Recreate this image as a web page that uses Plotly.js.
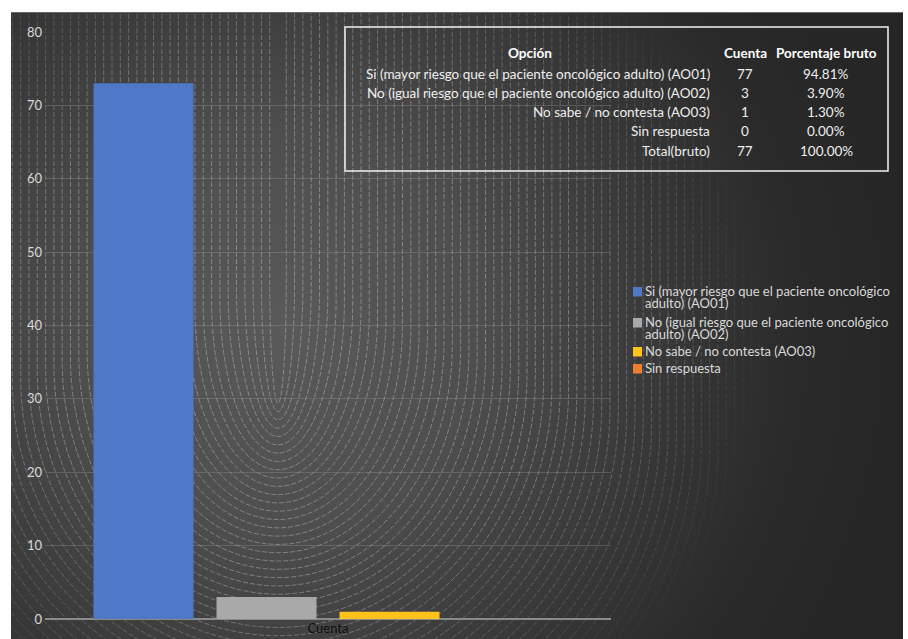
<!DOCTYPE html>
<html>
<head>
<meta charset="utf-8">
<script src="https://cdn.plot.ly/plotly-3.0.1.min.js"></script>
<style>
  html, body { margin: 0; padding: 0; background: #ffffff; }
  #wrap { position: relative; width: 908px; height: 639px; overflow: hidden; }
  #bg {
    position: absolute; left: 11px; top: 12px; width: 892px; height: 627px;
    background: radial-gradient(circle 620px at 269px 318px,
      #5a5a5a 0px, #4e4e4e 200px, #3f3f3f 320px, #353535 410px, #2a2a2a 520px, #262626 620px);
    border-top: 1px solid #6a6a6a;
  }
  #pattern { position: absolute; left: 0; top: 0; width: 908px; height: 639px; }
  #chart { position: absolute; left: 0; top: 0; width: 908px; height: 639px; }
</style>
</head>
<body>
<div id="wrap">
  <div id="bg"></div>
  <svg id="pattern" width="908" height="639" xmlns="http://www.w3.org/2000/svg"></svg>
  <div id="chart"></div>
</div>
<script>
// ---- data ----
const categories = ['Cuenta'];
const seriesNames = [
  'Si (mayor riesgo que el paciente oncológico adulto) (AO01)',
  'No (igual riesgo que el paciente oncológico adulto) (AO02)',
  'No sabe / no contesta (AO03)',
  'Sin respuesta'
];
const seriesValues = [73, 3, 1, 0];
const seriesColors = ['#4f78c7', '#a9a9a9', '#ffc21a', '#ed7d31'];
const legendLines = [
  ['Si (mayor riesgo que el paciente oncológico', 'adulto) (AO01)'],
  ['No (igual riesgo que el paciente oncológico', 'adulto) (AO02)'],
  ['No sabe / no contesta (AO03)'],
  ['Sin respuesta']
];
const yTicks = [0, 10, 20, 30, 40, 50, 60, 70, 80];
const tableHeader = ['Opción', 'Cuenta', 'Porcentaje bruto'];
const tableOptions = [
  'Si (mayor riesgo que el paciente oncológico adulto) (AO01)',
  'No (igual riesgo que el paciente oncológico adulto) (AO02)',
  'No sabe / no contesta (AO03)',
  'Sin respuesta',
  'Total(bruto)'
];
const tableCounts = [77, 3, 1, 0, 77];
const tablePercents = ['94.81%', '3.90%', '1.30%', '0.00%', '100.00%'];

// ---- decorative background texture (chart-area fill) ----
(function () {
  const NS = 'http://www.w3.org/2000/svg';
  const svg = document.getElementById('pattern');
  const defs = document.createElementNS(NS, 'defs');
  defs.innerHTML =
    '<clipPath id="bgclip"><rect x="11" y="13" width="892" height="626"/></clipPath>' +
    '<radialGradient id="fadeG" gradientUnits="userSpaceOnUse" cx="300" cy="330" r="470">' +
    '<stop offset="0" stop-color="#fff"/><stop offset="0.55" stop-color="#fff"/>' +
    '<stop offset="0.85" stop-color="#777"/><stop offset="1" stop-color="#000"/></radialGradient>' +
    '<mask id="fadeM"><rect x="0" y="0" width="908" height="639" fill="url(#fadeG)"/></mask>';
  svg.appendChild(defs);
  const g = document.createElementNS(NS, 'g');
  g.setAttribute('clip-path', 'url(#bgclip)');
  g.setAttribute('mask', 'url(#fadeM)');
  const cx = 278, vy = 395, step = 8.3;
  let d = '';
  for (let k = 1; k <= 80; k++) {
    const a = step * k;
    const b = 120 + 0.6 * a;
    const yb = vy + a;
    const yc = yb - b;
    d += 'M' + (cx - a) + ',0 L' + (cx - a) + ',' + yc +
         ' A' + a + ',' + b + ' 0 0 0 ' + cx + ',' + yb +
         ' A' + a + ',' + b + ' 0 0 0 ' + (cx + a) + ',' + yc +
         ' L' + (cx + a) + ',0 ';
  }
  const p = document.createElementNS(NS, 'path');
  p.setAttribute('d', d);
  p.setAttribute('fill', 'none');
  p.setAttribute('stroke', 'rgba(255,255,255,0.34)');
  p.setAttribute('stroke-width', '0.9');
  p.setAttribute('stroke-dasharray', '5 2');
  g.appendChild(p);
  svg.appendChild(g);
})();

// ---- layout geometry (pixels) ----
const W = 908, H = 639;
const M = { l: 45, r: 297, t: 32, b: 20 };
const PW = W - M.l - M.r, PH = H - M.t - M.b;
const px = x => (x - M.l) / PW;          // pixel -> paper x
const py = y => (H - M.b - y) / PH;      // pixel -> paper y

const FONT = 'Lato, "Open Sans", sans-serif';
const TXT = '#eeeeee';

const traces = seriesNames.map((n, i) => ({
  type: 'bar',
  name: n,
  x: categories,
  y: [seriesValues[i]],
  marker: { color: seriesColors[i], line: { width: 0 } },
  hoverinfo: 'name+y',
  showlegend: false
}));

const shapes = [];
const annotations = [];

// table frame
shapes.push({ type: 'rect', xref: 'paper', yref: 'paper',
  x0: px(345), x1: px(888), y0: py(27), y1: py(171),
  line: { color: '#f2f2f2', width: 1.5 }, fillcolor: 'rgba(0,0,0,0)', layer: 'above' });

const TS = 13.5;
// table header
const colX = [530, 745, 826];
tableHeader.forEach((h, j) => annotations.push({
  xref: 'paper', yref: 'paper', x: px(colX[j]), y: py(53),
  xanchor: 'center', yanchor: 'middle', showarrow: false,
  text: '<b>' + h + '</b>', font: { family: FONT, size: TS, color: '#ffffff' }
}));
// table rows
const rowY = [74, 93, 112, 131, 151];
tableOptions.forEach((o, i) => {
  annotations.push({ xref: 'paper', yref: 'paper', x: px(712), y: py(rowY[i]),
    xanchor: 'right', yanchor: 'middle', showarrow: false, text: o,
    font: { family: FONT, size: TS, color: TXT } });
  annotations.push({ xref: 'paper', yref: 'paper', x: px(745), y: py(rowY[i]),
    xanchor: 'center', yanchor: 'middle', showarrow: false, text: String(tableCounts[i]),
    font: { family: FONT, size: TS, color: TXT } });
  annotations.push({ xref: 'paper', yref: 'paper', x: px(826), y: py(rowY[i]),
    xanchor: 'center', yanchor: 'middle', showarrow: false, text: tablePercents[i],
    font: { family: FONT, size: TS, color: TXT } });
});

// manual legend (Excel-style: small squares, tightly wrapped text)
const legendY = [291, 322, 351, 368];
legendLines.forEach((lines, i) => {
  const ly = legendY[i];
  shapes.push({ type: 'rect', xref: 'paper', yref: 'paper',
    x0: px(633), x1: px(642), y0: py(ly + 5.5), y1: py(ly - 4),
    fillcolor: seriesColors[i], line: { width: 0 }, layer: 'above' });
  lines.forEach((t, k) => {
    annotations.push({ xref: 'paper', yref: 'paper', x: px(644), y: py(ly + k * 12),
      xanchor: 'left', yanchor: 'middle', showarrow: false, text: t, borderpad: 0,
      font: { family: FONT, size: 13, color: '#d9d9d9' } });
  });
});

const layout = {
  width: W, height: H,
  margin: M,
  paper_bgcolor: 'rgba(0,0,0,0)',
  plot_bgcolor: 'rgba(0,0,0,0)',
  barmode: 'group',
  bargap: 0.1307,
  bargroupgap: 0.187,
  showlegend: false,
  font: { family: FONT, color: TXT },
  xaxis: {
    type: 'category',
    showgrid: false, zeroline: false, showline: false,
    tickfont: { family: FONT, size: 13, color: '#0d0d0d' },
    ticks: '', ticklabelstandoff: 0
  },
  yaxis: {
    range: [0, 80], tickvals: yTicks, ticktext: yTicks.map(String),
    showgrid: true, gridcolor: 'rgba(150,150,150,0.35)', gridwidth: 1,
    zeroline: true, zerolinecolor: '#8a8a8a', zerolinewidth: 1.5,
    showline: false, ticks: '', ticklabelstandoff: 2,
    tickfont: { family: FONT, size: 13, color: '#d9d9d9' }
  },
  shapes: shapes,
  annotations: annotations
};

Plotly.newPlot('chart', traces, layout, { displayModeBar: false, staticPlot: true });
</script>
</body>
</html>
